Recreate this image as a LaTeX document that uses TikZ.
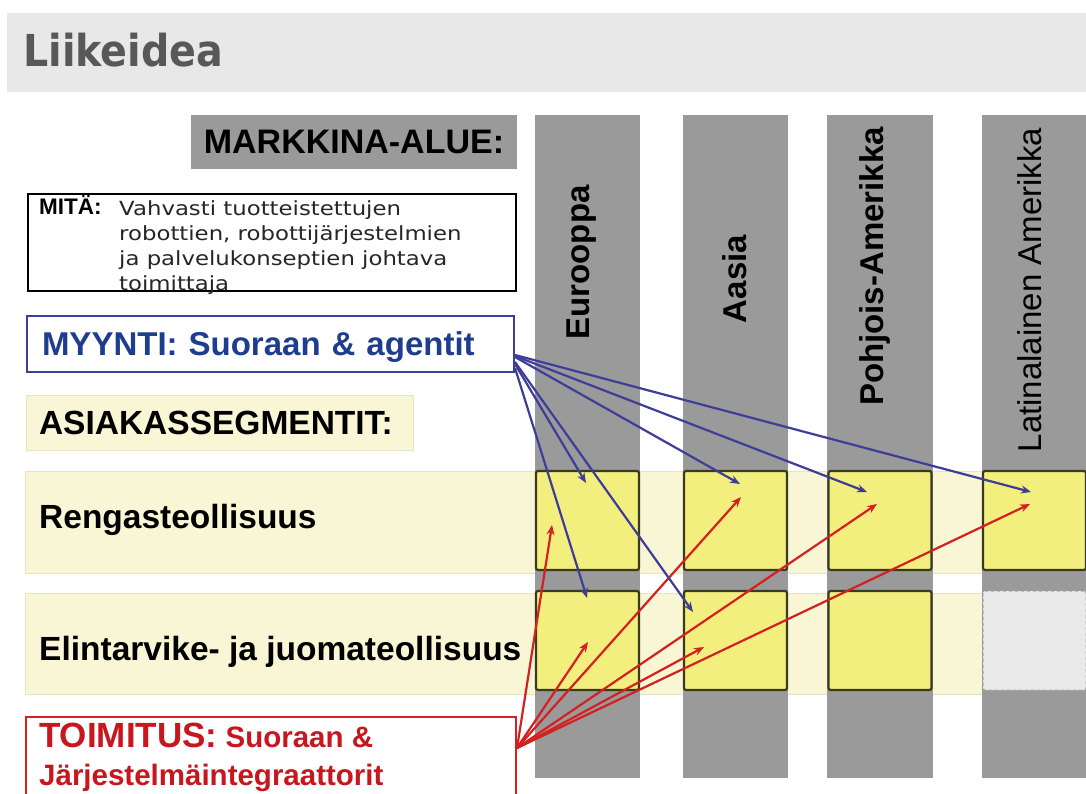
\documentclass[tikz,border=0pt]{standalone}
\usepackage{fontspec}
\setmainfont{Liberation Sans}
\newfontfamily\titlefont[FakeStretch=0.9]{DejaVu Sans}
\newfontfamily\mitafont[FakeStretch=1.17]{DejaVu Sans}
\usetikzlibrary{arrows.meta}

\definecolor{headgray}{HTML}{E8E8E8}
\definecolor{titletext}{HTML}{585858}
\definecolor{colgray}{HTML}{9A9A9A}
\definecolor{bandyellow}{HTML}{F8F6D4}
\definecolor{bandedge}{HTML}{E6E4C6}
\definecolor{cellyellow}{HTML}{F3EF7E}
\definecolor{celledge}{HTML}{3A3A22}
\definecolor{emptycell}{HTML}{E9E9E9}
\definecolor{salesblue}{HTML}{1F3D8F}
\definecolor{salesline}{HTML}{3E3E98}
\definecolor{delivred}{HTML}{C8161E}
\definecolor{delivline}{HTML}{D42020}

\begin{document}
\begin{tikzpicture}
[x=1pt,y=-1pt,
 bigtext/.style={font=\fontsize{33.5}{36}\selectfont\bfseries},
 cell/.style={draw=celledge,fill=cellyellow,line width=2.2pt,rounded corners=2pt,minimum width=103pt,minimum height=99pt,inner sep=0pt},
 region/.style={rotate=90,inner sep=0pt,text depth=0pt,font=\fontsize{33}{36}\selectfont\bfseries},
 sales/.style={draw=salesline,line width=2.2pt,-{Stealth[length=10pt,width=8pt]}},
 deliv/.style={draw=delivline,line width=2.2pt,-{Stealth[length=10pt,width=8pt]}}]
\useasboundingbox (0,0) rectangle (1086,794);
\fill[white] (0,0) rectangle (1086,794);
\fill[headgray] (7,13) rectangle (1086,92);
\node[anchor=base west,inner sep=0pt,text=titletext,font=\titlefont\bfseries\fontsize{44}{46}\selectfont] (title) at (23,67) {Liikeidea};
% rivit ja sarakkeet
\fill[bandyellow,draw=bandedge] (25,471) rectangle (1086,573);
\fill[bandyellow,draw=bandedge] (25,593) rectangle (1086,694);
\foreach \x/\w in {535/105,683/105,827/106,982/105} \fill[colgray] (\x,115) rectangle (\x+\w,778);
\node[fill=colgray,minimum width=326pt,minimum height=54pt,inner sep=0pt,text depth=0pt,font=\fontsize{34}{36}\selectfont\bfseries] (markkina) at (354,142) {MARKKINA-ALUE:};
\node[draw=black,line width=2.5pt,minimum width=488pt,minimum height=97pt,inner sep=0pt] (mita) at (272,242.5) {};
\node[anchor=base west,inner sep=0pt,font=\fontsize{22.5}{24}\selectfont\bfseries] (mitalabel) at (39,215) {MITÄ:};
\node[anchor=north west,inner sep=0pt,align=left,text=black!85,font=\mitafont\fontsize{19.5}{25}\selectfont] (mitateksti) at (119,200) {Vahvasti tuotteistettujen\\robottien, robottijärjestelmien\\ja palvelukonseptien johtava\\toimittaja};
\node[draw=salesline,line width=2pt,minimum width=487pt,minimum height=56pt,inner xsep=15pt,text width=457pt,align=left,text=salesblue,text depth=0pt,font=\fontsize{33}{36}\selectfont\bfseries] (myynti) at (270.5,344) {MYYNTI: Suoraan \& agentit};
\node[fill=bandyellow,draw=bandedge,minimum width=387pt,minimum height=55pt,inner xsep=13pt,text width=361pt,align=left,text depth=0pt,bigtext] (asiakas) at (219.5,422.5) {ASIAKASSEGMENTIT:};
\node[bigtext,anchor=base west,inner sep=0pt] (rengas) at (39,528) {Rengasteollisuus};
\node[bigtext,anchor=base west,inner sep=0pt] (elintarvike) at (39,660) {Elintarvike- ja juomateollisuus};
\node[draw=delivline,line width=2pt,minimum width=490pt,minimum height=78pt,inner sep=0pt] (toimitus) at (271,756) {};
\node[anchor=base west,inner sep=0pt,text=delivred,font=\bfseries] (toimitusteksti) at (39,747) {{\fontsize{35}{38}\selectfont TOIMITUS:}{\fontsize{29.5}{38}\selectfont\ Suoraan \&}};
\node[anchor=base west,inner sep=0pt,text=delivred,font=\fontsize{29.5}{32}\selectfont\bfseries] (integraattorit) at (39,785) {Järjestelmäintegraattorit};
% solut
\foreach \n/\x in {eur/587.5,aas/735.5,poh/880,lat/1034.5} \node[cell] (\n1) at (\x,520.5) {};
\foreach \n/\x in {eur/587.5,aas/735.5,poh/880} \node[cell] (\n2) at (\x,640.5) {};
\node[cell,fill=emptycell,draw=gray!70,line width=1pt,dashed] (lat2) at (1034.5,640.5) {};
\node[region] (eurooppa) at (578,262.5) {Eurooppa};
\node[region] (aasia) at (735,279) {Aasia};
\node[region] (pohjois) at (872,266.5) {Pohjois-Amerikka};
\node[region,font=\fontsize{33}{36}\selectfont] (latina) at (1030,290) {Latinalainen Amerikka};
% nuolet
\foreach \t/\dx/\dy in {eur1/-35.5/-4.5,aas1/5.5/23.5,poh1/-3/16.5,lat1/-4.5/16.5,eur2/0.5/-1.5,aas2/-31.5/-6.5}
  \draw[deliv] ([yshift=8pt]toimitus.east) -- ([xshift=\dx pt,yshift=\dy pt]\t.center);
\foreach \s/\t/\dx/\dy in {-11/lat1/-3.5/28.5,-12/poh1/-13/28.5,-13/aas1/4.5/36.5,-20/eur1/-1.5/37.5,-18/aas2/-42.5/28.5,-24/eur2/-0.5/42.5}
  \draw[sales] ([yshift=\s pt]myynti.east) -- ([xshift=\dx pt,yshift=\dy pt]\t.center);
\end{tikzpicture}
\end{document}
